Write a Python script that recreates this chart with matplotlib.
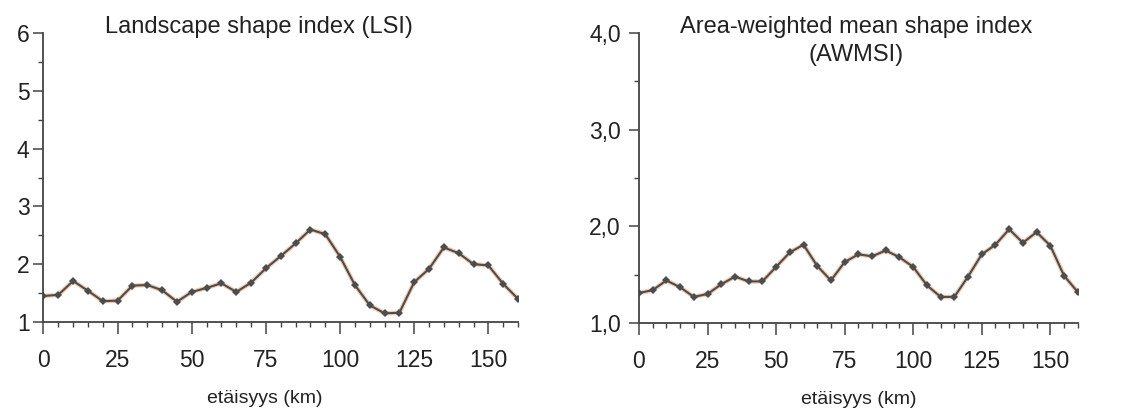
import matplotlib.pyplot as plt
from matplotlib.ticker import MultipleLocator, FuncFormatter

plt.rcParams['font.family'] = ['Liberation Sans', 'DejaVu Sans']

# etäisyys (km), sampled every 5 km
distance = [0, 5, 10, 15, 20, 25, 30, 35, 40, 45, 50, 55, 60, 65, 70, 75, 80,
            85, 90, 95, 100, 105, 110, 115, 120, 125, 130, 135, 140, 145, 150,
            155, 160]

# Landscape shape index (LSI)
lsi = [1.45, 1.47, 1.71, 1.54, 1.36, 1.37, 1.63, 1.64, 1.55, 1.35, 1.52,
       1.59, 1.67, 1.52, 1.68, 1.93, 2.14, 2.36, 2.60, 2.52, 2.13, 1.64,
       1.29, 1.15, 1.16, 1.69, 1.92, 2.29, 2.19, 2.00, 1.98, 1.66, 1.40]

# Area-weighted mean shape index (AWMSI)
awmsi = [1.31, 1.34, 1.44, 1.37, 1.27, 1.30, 1.40, 1.48, 1.43, 1.43, 1.58,
         1.73, 1.81, 1.59, 1.44, 1.63, 1.71, 1.69, 1.75, 1.68, 1.58, 1.39,
         1.27, 1.27, 1.48, 1.71, 1.81, 1.97, 1.83, 1.94, 1.80, 1.49, 1.32]

x_label = "etäisyys (km)"
title_lsi = "Landscape shape index (LSI)"
title_awmsi = ["Area-weighted mean shape index", "(AWMSI)"]

axis_col = "#444444"
line_col = "#4d4d4d"
glow_col = "#e9a070"
text_col = "#222222"

fig = plt.figure(figsize=(11.21, 4.09), dpi=100)
ax1 = fig.add_axes([0.0388, 0.2127, 0.4233, 0.7066])
ax2 = fig.add_axes([0.570, 0.2103, 0.3914, 0.709])


def draw_panel(ax, values, ymin, ymax, ypad):
    ax.plot(distance, values, color=glow_col, lw=3.2, alpha=0.55,
            solid_capstyle="round", zorder=2)
    ax.plot(distance, values, color=line_col, lw=1.5, marker="D",
            markersize=4.5, markerfacecolor=line_col, markeredgewidth=0, zorder=3)
    ax.set_xlim(0, 160)
    ax.set_ylim(ymin, ymax)
    for s in ["top", "right"]:
        ax.spines[s].set_visible(False)
    for s in ["left", "bottom"]:
        ax.spines[s].set_color(axis_col)
        ax.spines[s].set_linewidth(1.3)
        ax.spines[s].set_zorder(4)
    ax.xaxis.set_major_locator(MultipleLocator(25))
    ax.xaxis.set_minor_locator(MultipleLocator(5))
    ax.yaxis.set_major_locator(MultipleLocator(1))
    ax.yaxis.set_minor_locator(MultipleLocator(0.5))
    ax.tick_params(axis="both", which="major", width=1.1, color=axis_col,
                   labelsize=16.5, labelcolor=text_col)
    ax.tick_params(axis="both", which="minor", length=3.5, width=1.0,
                   color=axis_col)
    ax.tick_params(axis="x", which="major", length=8.5, pad=11)
    ax.tick_params(axis="y", which="major", length=7, pad=ypad)


draw_panel(ax1, lsi, 1, 6, 3)
draw_panel(ax2, awmsi, 1, 4, 6)
ax2.yaxis.set_major_formatter(FuncFormatter(lambda v, p: f"{v:.1f}".replace(".", ",")))

ax1.set_xlabel(x_label, fontsize=14, color=text_col, labelpad=13, x=0.467)
ax2.set_xlabel(x_label, fontsize=14, color=text_col, labelpad=13)

ax1.text(0.454, 1.0, title_lsi, transform=ax1.transAxes, ha="center",
         va="baseline", fontsize=17, color=text_col)
ax2.text(0.495, 1.0, title_awmsi[0], transform=ax2.transAxes, ha="center",
         va="baseline", fontsize=17, color=text_col)
ax2.text(0.495, 0.903, title_awmsi[1], transform=ax2.transAxes, ha="center",
         va="baseline", fontsize=17, color=text_col)

fig.savefig("out.png", dpi=100, facecolor="white")
